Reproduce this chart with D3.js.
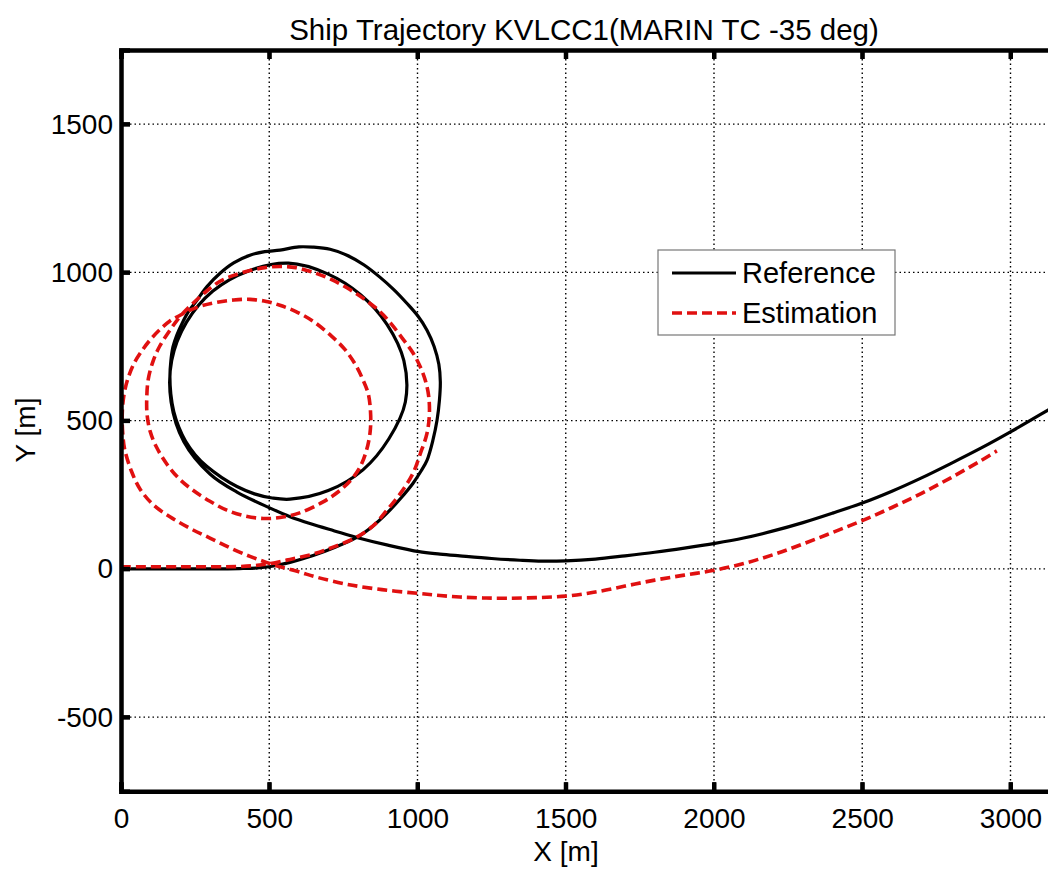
<!DOCTYPE html>
<html>
<head>
<meta charset="utf-8">
<script src="https://cdn.jsdelivr.net/npm/d3@7"></script>
<style>
  html, body { margin: 0; padding: 0; background: #fff; }
  svg { display: block; font-family: "Liberation Sans", Arial, sans-serif; }
</style>
</head>
<body>
<svg id="chart" width="1048" height="870"></svg>
<script>
// ---- data ----
const titleText = "Ship Trajectory KVLCC1(MARIN TC -35 deg)";
const xLabel = "X [m]";
const yLabel = "Y [m]";
const seriesNames = ["Reference", "Estimation"];
const xTicks = [0, 500, 1000, 1500, 2000, 2500, 3000];
const yTicks = [-500, 0, 500, 1000, 1500];
const xDomain = [0, 3200];
const yDomain = [-750, 1750];

// Reference trajectory (black)
const refX = [0,200,400,460,510,570,648,720,795,850,897,945,985,1012,1032,1052,1066,1074,1077,1072,1056,1032,1002,964,920,873,820,762,705,648,600,536,485,435,380,334,290,256,226,206,188,175,168,165,168,178,195,218,250,290,340,391,450,510,570,
  699,816,903,959,954,897,809,697,565,430,310,221,171,169,212,301,391,503,570,640,720,795,900,1005,1076,1143,1250,1346,1420,1500,1600,1700,1800,1900,2003,2100,2200,2300,2400,2500,2600,2700,2800,2900,3000,3100,3200];
const refY = [0,0,1,3,9,22,45,72,106,145,188,240,289,330,366,434,502,569,630,690,750,805,852,896,942,984,1025,1058,1078,1085,1086,1075,1070,1058,1032,997,952,906,865,828,788,748,700,650,590,530,478,430,385,345,308,278,253,239,235,
  264,334,438,563,702,825,924,995,1031,1005,937,832,703,563,429,319,259,205,176,152,128,106,80,58,50,44,35,29,26,27,33,44,56,70,86,104,128,156,188,222,262,307,356,407,462,520,580];

// Estimation trajectory (red dashed)
const estX = [0,200,400,460,503,570,648,720,795,850,897,945,985,1010,1032,1040,1038,1028,1010,985,951,910,873,820,762,705,648,590,536,485,435,380,334,290,243,200,165,130,108,92,87,88,98,120,155,195,243,300,357,420,480,536,
  600,680,739,780,806,828,840,842,834,815,790,755,710,648,590,536,490,435,380,323,275,233,195,165,130,98,70,45,26,13,6,4,6,12,35,65,110,165,230,300,370,435,490,540,600,660,762,880,1005,1076,1143,1220,1302,1400,1500,1600,1700,1800,1900,2000,2100,2200,2300,2400,2500,2600,2700,2800,2900,2954];
const estY = [7,7,8,12,18,32,50,75,107,145,198,258,323,390,457,520,580,630,680,728,775,828,868,910,948,978,1000,1016,1020,1016,1006,990,970,938,896,852,805,750,700,640,580,520,465,410,353,305,265,228,198,178,170,173,
  188,225,265,305,343,400,460,520,590,640,690,740,785,835,868,889,902,909,907,899,888,873,853,836,806,772,735,695,650,603,555,505,455,405,330,268,215,176,138,104,70,42,22,6,-10,-28,-52,-70,-83,-90,-95,-98,-99,-97,-92,-78,-58,-38,-21,-5,18,48,84,123,163,207,255,308,365,398];

// ---- layout ----
const svg = d3.select("#chart");
const W = 1048, H = 870;
const mLeft = 121, mTop = 50;
const pxPerUnit = 0.2965;
const mRight = mLeft + (xDomain[1] - xDomain[0]) * pxPerUnit;
const mBottom = mTop + (yDomain[1] - yDomain[0]) * pxPerUnit;

const x = d3.scaleLinear().domain(xDomain).range([mLeft, mRight]);
const y = d3.scaleLinear().domain(yDomain).range([mBottom, mTop]);

svg.append("rect").attr("width", W).attr("height", H).attr("fill", "#fff");

svg.append("defs").append("clipPath").attr("id", "plotclip")
  .append("rect").attr("x", mLeft).attr("y", mTop)
  .attr("width", mRight - mLeft).attr("height", mBottom - mTop);

// grid
const grid = svg.append("g").attr("stroke", "#000").attr("stroke-width", 1.4)
  .attr("stroke-dasharray", "1.5,3");
grid.selectAll("line.gx").data(xTicks).join("line")
  .attr("x1", d => x(d)).attr("x2", d => x(d))
  .attr("y1", mTop).attr("y2", mBottom);
grid.selectAll("line.gy").data(yTicks).join("line")
  .attr("x1", mLeft).attr("x2", mRight)
  .attr("y1", d => y(d)).attr("y2", d => y(d));

// lines
const plot = svg.append("g").attr("clip-path", "url(#plotclip)");
const line = d3.line().x(d => x(d[0])).y(d => y(d[1])).curve(d3.curveCatmullRom.alpha(0.5));
const refPts = refX.map((v, i) => [v, refY[i]]);
const estPts = estX.map((v, i) => [v, estY[i]]);
plot.append("path").datum(refPts).attr("d", line)
  .attr("fill", "none").attr("stroke", "#000").attr("stroke-width", 3.2)
  .attr("stroke-linejoin", "round");
plot.append("path").datum(estPts).attr("d", line)
  .attr("fill", "none").attr("stroke", "#e01010").attr("stroke-width", 3.6)
  .attr("stroke-dasharray", "10,5");

// axes (MATLAB style box with inward ticks)
const tickLen = 9;
const fmt = d => String(d);
const axB = svg.append("g").attr("transform", `translate(0,${mBottom})`)
  .call(d3.axisBottom(x).tickValues(xTicks).tickSize(-tickLen).tickPadding(tickLen + 8).tickFormat(fmt));
const axT = svg.append("g").attr("transform", `translate(0,${mTop})`)
  .call(d3.axisTop(x).tickValues(xTicks).tickSize(-tickLen).tickFormat(""));
const axL = svg.append("g").attr("transform", `translate(${mLeft},0)`)
  .call(d3.axisLeft(y).tickValues(yTicks).tickSize(-tickLen).tickPadding(8).tickFormat(fmt));
[axB, axT, axL].forEach(a => {
  a.select(".domain").attr("stroke", "#000").attr("stroke-width", 4.5);
  a.selectAll(".tick line").attr("stroke", "#000").attr("stroke-width", 4);
  a.selectAll(".tick text").attr("fill", "#000").attr("font-size", 28)
    .attr("font-family", "Liberation Sans, Arial, sans-serif");
});

// explicit inward tick marks on the box (MATLAB style)
const tk = svg.append("g").attr("stroke", "#000").attr("stroke-width", 4);
tk.selectAll("line.tt").data(xTicks).join("line")
  .attr("x1", d => x(d)).attr("x2", d => x(d)).attr("y1", mTop).attr("y2", mTop + tickLen);
tk.selectAll("line.tb").data(xTicks).join("line")
  .attr("x1", d => x(d)).attr("x2", d => x(d)).attr("y1", mBottom).attr("y2", mBottom - tickLen);
tk.selectAll("line.tl").data(yTicks).join("line")
  .attr("x1", mLeft).attr("x2", mLeft + tickLen).attr("y1", d => y(d)).attr("y2", d => y(d));

// title and labels
svg.append("text").attr("x", 584).attr("y", 40).attr("text-anchor", "middle")
  .attr("font-size", 29.5).attr("fill", "#000").text(titleText);
svg.append("text").attr("x", 566).attr("y", 861).attr("text-anchor", "middle")
  .attr("font-size", 28).attr("fill", "#000").text(xLabel);
svg.append("text").attr("transform", `translate(35,430) rotate(-90)`).attr("text-anchor", "middle")
  .attr("font-size", 28).attr("fill", "#000").text(yLabel);

// legend
const lg = svg.append("g");
lg.append("rect").attr("x", 658).attr("y", 250).attr("width", 237).attr("height", 85)
  .attr("fill", "#fff").attr("stroke", "#777").attr("stroke-width", 1.2);
const rows = [
  {name: seriesNames[0], color: "#000", dash: null, w: 3.2, yy: 273},
  {name: seriesNames[1], color: "#e01010", dash: "10,5", w: 3.6, yy: 313}
];
rows.forEach(r => {
  lg.append("line").attr("x1", 672).attr("x2", 736).attr("y1", r.yy).attr("y2", r.yy)
    .attr("stroke", r.color).attr("stroke-width", r.w).attr("stroke-dasharray", r.dash);
  lg.append("text").attr("x", 742).attr("y", r.yy + 10).attr("font-size", 29)
    .attr("fill", "#000").text(r.name);
});
</script>
</body>
</html>
